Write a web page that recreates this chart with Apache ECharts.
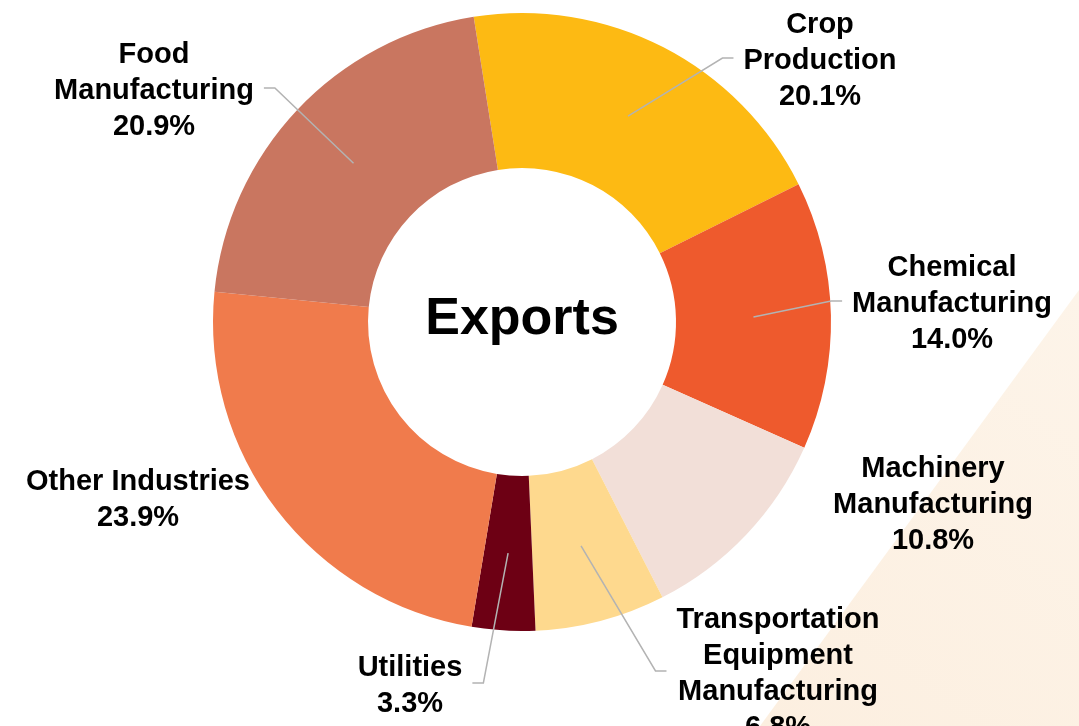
<!DOCTYPE html>
<html>
<head>
<meta charset="utf-8">
<title>Exports</title>
<script src="https://cdn.jsdelivr.net/npm/echarts@6/dist/echarts.min.js"></script>
<style>
  html, body { margin: 0; padding: 0; background: #ffffff; }
  #exports { width: 1079px; height: 726px; }
</style>
</head>
<body>
<div id="exports"></div>
<script>
var categories = [
  "Crop\nProduction",
  "Chemical\nManufacturing",
  "Machinery\nManufacturing",
  "Transportation\nEquipment\nManufacturing",
  "Utilities",
  "Other Industries",
  "Food\nManufacturing"
];
var shares = [20.1, 14.0, 10.8, 6.8, 3.3, 23.9, 20.9];
var colors = ["#FDBA13", "#EE5A2D", "#F2DFD8", "#FED98E", "#6D0014", "#F07B4C", "#C97660"];
// which labels get a leader line
var withLine = [true, true, false, true, true, false, true];
// label block centres (px)
var labelSpots = [[820, 61], [952, 304], [933, 505], [778, 674], [410, 686], [138, 500], [154, 91]];

var myChart = echarts.init(document.getElementById("exports"));

var ring = { center: [522, 322], radius: [154, 309], startAngle: 99, clockwise: true };

// coloured ring, no labels
var sectors = categories.map(function (name, i) {
  return { name: name, value: shares[i], itemStyle: { color: colors[i] } };
});
// same ring, transparent, drawn on top so leader lines sit over the slices
var labelled = categories.map(function (name, i) {
  return { name: name, value: shares[i], labelLine: { show: withLine[i] } };
});

var option = {
  animation: false,
  backgroundColor: "#ffffff",
  graphic: [
    {
      type: "polygon",
      z: -10,
      silent: true,
      shape: { points: [[1079, 290], [1079, 726], [760, 726]] },
      style: {
        fill: new echarts.graphic.LinearGradient(1, 0, 0, 1, [
          { offset: 0, color: "#FDF4E9" },
          { offset: 1, color: "#FCEFE0" }
        ])
      }
    },
    {
      type: "text",
      x: 522,
      y: 320,
      z: 10,
      style: {
        text: "Exports",
        fill: "#000000",
        font: "bold 52px 'Liberation Sans', Arial, sans-serif",
        align: "center",
        verticalAlign: "middle"
      }
    }
  ],
  series: [
    Object.assign({
      type: "pie",
      z: 2,
      silent: true,
      data: sectors,
      label: { show: false },
      labelLine: { show: false }
    }, ring),
    Object.assign({
      type: "pie",
      z: 3,
      silent: true,
      avoidLabelOverlap: false,
      data: labelled,
      itemStyle: { color: "rgba(0,0,0,0)" },
      label: {
        show: true,
        position: "outside",
        color: "#000000",
        fontFamily: "'Liberation Sans', Arial, sans-serif",
        fontWeight: "bold",
        fontSize: 29,
        lineHeight: 36,
        align: "center",
        formatter: function (p) {
          return p.name + "\n" + p.value.toFixed(1) + "%";
        }
      },
      labelLine: {
        show: true,
        lineStyle: { color: "#B3B3B3", width: 1.5 }
      },
      labelLayout: function (params) {
        var i = params.dataIndex;
        var spot = labelSpots[i];
        var res = { x: spot[0], y: spot[1], align: "center", verticalAlign: "middle" };
        if (!withLine[i]) return res;
        var lay = myChart.getModel().getSeriesByIndex(params.seriesIndex).getData().getItemLayout(i);
        var mid = (lay.startAngle + lay.endAngle) / 2;
        var rr = (lay.r + lay.r0) / 2;
        var sx = lay.cx + rr * Math.cos(mid);
        var sy = lay.cy + rr * Math.sin(mid);
        var w = params.labelRect.width;
        var onRight = spot[0] > lay.cx;
        var ex = onRight ? spot[0] - w / 2 - 10 : spot[0] + w / 2 + 10;
        var ey = spot[1] - 3;
        var kx = onRight ? ex - 11 : ex + 11;
        res.labelLinePoints = [[sx, sy], [kx, ey], [ex, ey]];
        return res;
      }
    }, ring)
  ]
};

myChart.setOption(option);
</script>
</body>
</html>
